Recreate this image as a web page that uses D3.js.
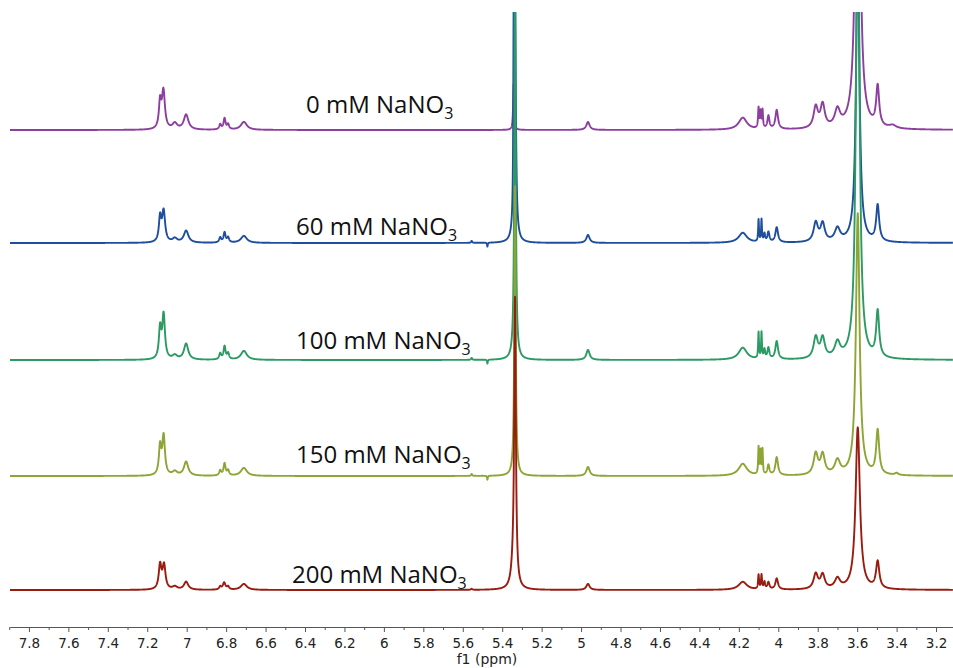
<!DOCTYPE html>
<html>
<head>
<meta charset="utf-8">
<script src="https://cdn.jsdelivr.net/npm/d3@7"></script>
<style>
  body { margin: 0; background: #fff; }
  svg { display: block; }
</style>
</head>
<body>
<script>
'use strict';

// peak lists: [ppm, height, half width (ppm)]
const peaks0mM = [
  [7.135, 26, .007], [7.118, 38, .009], [7.06, 6, .014], [7.003, 15, .014],
  [6.83, 5, .006], [6.808, 11, .006], [6.79, 5, .006], [6.71, 8, .018],
  [5.342, 46, .003], [4.965, 8, .01],
  [4.18, 12, .025], [4.10, 20, .003], [4.09, 16, .003], [4.08, 18, .003], [4.05, 13, .006], [4.008, 19, .008],
  [3.81, 21, .013], [3.775, 23, .013], [3.70, 17, .016], [3.597, 500, .011], [3.496, 40, .009], [3.42, 3, .02]
];
const peaks60mM = [
  [7.135, 24, .007], [7.117, 31, .009], [7.06, 4, .014], [7.003, 12, .014],
  [6.83, 5, .006], [6.808, 10, .006], [6.79, 5, .006], [6.71, 7, .018],
  [5.555, 2, .003], [5.475, -4, .002], [5.342, 160, .002], [5.335, 240, .005], [4.965, 8, .01],
  [4.18, 10, .025], [4.10, 22, .0025], [4.085, 22, .0025], [4.07, 8, .004], [4.05, 10, .006], [4.008, 15, .008],
  [3.81, 19, .013], [3.775, 18, .013], [3.70, 13, .016], [3.597, 300, .010], [3.496, 36, .009]
];
const peaks100mM = [
  [7.135, 30, .007], [7.117, 44, .008], [7.06, 4, .014], [7.003, 16, .013],
  [6.83, 6, .006], [6.808, 13, .006], [6.79, 6, .006], [6.71, 9, .018],
  [5.555, 2, .003], [5.475, -4, .002], [5.335, 400, .004], [4.965, 10, .01],
  [4.18, 12, .025], [4.10, 26, .0025], [4.085, 26, .0025], [4.07, 9, .004], [4.05, 11, .006], [4.008, 18, .008],
  [3.81, 21, .013], [3.775, 20, .013], [3.70, 15, .016], [3.597, 500, .010], [3.496, 46, .009]
];
const peaks150mM = [
  [7.135, 28, .007], [7.117, 39, .008], [7.06, 4, .014], [7.003, 14, .013],
  [6.83, 5, .006], [6.808, 12, .006], [6.79, 5, .006], [6.71, 8, .018],
  [5.555, 2, .003], [5.475, -4, .002], [5.335, 290, .004], [4.965, 9, .01],
  [4.18, 12, .025], [4.10, 27, .0025], [4.09, 23, .0025], [4.08, 25, .0025], [4.05, 10, .006], [4.008, 18, .008],
  [3.81, 21, .013], [3.775, 20, .013], [3.70, 14, .016], [3.597, 262, .011], [3.496, 44, .009], [3.40, 2, .01]
];
const peaks200mM = [
  [7.135, 24, .008], [7.115, 24, .009], [7.06, 3, .014], [7.003, 8, .013],
  [6.83, 3, .006], [6.81, 7, .008], [6.79, 3, .006], [6.71, 6, .018],
  [5.555, 1, .004], [5.345, 14, .012], [5.335, 285, .005], [4.965, 6, .01],
  [4.18, 8, .025], [4.10, 14, .003], [4.085, 14, .003], [4.07, 7, .004], [4.05, 7, .006], [4.008, 11, .008],
  [3.81, 15, .013], [3.775, 14, .013], [3.70, 10, .016], [3.597, 162, .013], [3.496, 27, .01]
];

const concentrations = ["0", "60", "100", "150", "200"];
const seriesPeaks = [peaks0mM, peaks60mM, peaks100mM, peaks150mM, peaks200mM];
const majorTicks = d3.range(78, 31, -2).map(v => v / 10);  // 7.8 ... 3.2
const minorTicks = d3.range(79, 31, -2).map(v => v / 10);  // 7.9 ... 3.3

// layout
const width = 953, height = 668;
const axisY = 627, plotTop = 12;
const baselines = [130, 243, 360, 476, 590];
const colors = ["#8d3f9f", "#1f4f9c", "#2b9a63", "#8ca534", "#9a1c10"];
const labelX = [306, 296, 296, 296, 292];
const labelY = [113, 235, 349, 463, 583];

let svg = d3.select("body").append("svg")
  .attr("width", width)
  .attr("height", height);

let x = d3.scaleLinear()
  .domain([7.896, 3.114])
  .range([10, 953]);

let y = d3.scaleLinear()
  .domain([0, 100])
  .range([0, -100]);

svg.append("clipPath").attr("id", "plot-clip")
  .append("rect")
  .attr("x", 10).attr("y", plotTop)
  .attr("width", width - 10).attr("height", axisY - plotTop);

// sample the spectra from the peak lists
let grid = d3.range(7.896, 3.114, -0.0005);

function spectrum(peaks) {
  return grid.map(p => {
    let s = 0;
    peaks.forEach(([c, h, w]) => {
      let t = (p - c) / w;
      s += h / (1 + t * t);
    });
    return [p, s];
  });
}

let plot = svg.append("g").attr("clip-path", "url(#plot-clip)");

seriesPeaks.forEach((peaks, i) => {
  let line = d3.line()
    .x(d => x(d[0]))
    .y(d => baselines[i] + y(d[1]));

  plot.append("path")
    .datum(spectrum(peaks))
    .attr("fill", "none")
    .attr("stroke", colors[i])
    .attr("stroke-width", 1.9)
    .attr("stroke-linejoin", "round")
    .attr("d", line);
});

// labels
concentrations.forEach((c, i) => {
  let t = svg.append("text")
    .attr("x", labelX[i])
    .attr("y", labelY[i])
    .attr("font-family", "'Open Sans', sans-serif")
    .attr("font-size", 24)
    .attr("fill", "#111");
  t.append("tspan").text(c + " mM NaNO");
  t.append("tspan").attr("dy", 6).attr("font-size", 16).text("3");
});

// axis
let minorAxis = d3.axisBottom(x)
  .tickValues(minorTicks)
  .tickSize(3)
  .tickSizeOuter(0)
  .tickFormat("");

let majorAxis = d3.axisBottom(x)
  .tickValues(majorTicks)
  .tickSize(5)
  .tickSizeOuter(0)
  .tickPadding(6)
  .tickFormat(d => String(+d.toFixed(1)));

svg.append("g")
  .attr("transform", `translate(0,${axisY})`)
  .call(minorAxis)
  .call(g => g.selectAll("line, path").attr("stroke", "#555"));

let ax = svg.append("g")
  .attr("transform", `translate(0,${axisY})`)
  .call(majorAxis);

ax.selectAll("line, path").attr("stroke", "#555");
ax.selectAll("text")
  .attr("font-family", "'DejaVu Sans', Verdana, sans-serif")
  .attr("font-size", 13.5)
  .attr("fill", "#222");

svg.append("text")
  .attr("x", 487)
  .attr("y", 664)
  .attr("text-anchor", "middle")
  .attr("font-family", "'DejaVu Sans', Verdana, sans-serif")
  .attr("font-size", 14)
  .attr("fill", "#222")
  .text("f1 (ppm)");
</script>
</body>
</html>
